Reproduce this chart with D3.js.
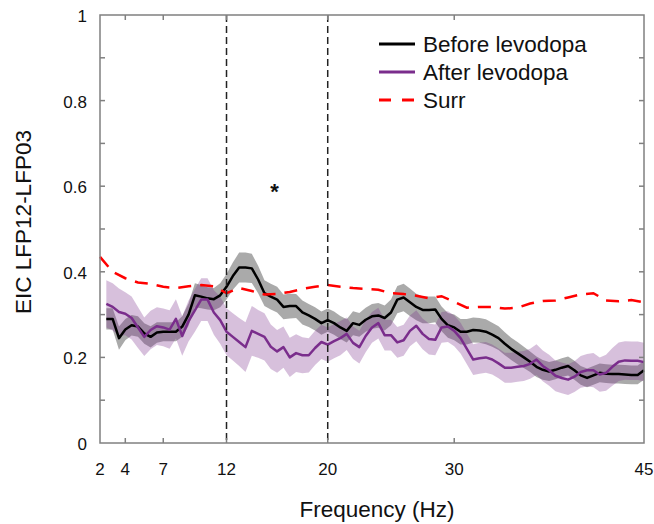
<!DOCTYPE html>
<html>
<head>
<meta charset="utf-8">
<script src="https://cdn.jsdelivr.net/npm/d3@7"></script>
<style>
  body { margin: 0; background: #fff; }
  text { font-family: Arial, "Liberation Sans", sans-serif; fill: #111; }
</style>
</head>
<body>
<svg id="chart" width="654" height="524"></svg>
<script>
// frequencies 2.5..45 Hz in 0.5 Hz steps
const freqs = d3.range(2.5, 45.01, 0.5);

const beforeMean = [
  0.29, 0.29, 0.245, 0.265, 0.275, 0.272,
  0.256, 0.248, 0.258, 0.26, 0.26, 0.26, 0.272,
  0.30, 0.345, 0.342, 0.338, 0.336, 0.345,
  0.365, 0.39, 0.41, 0.41, 0.408, 0.382,
  0.35, 0.342, 0.335, 0.318, 0.32, 0.32, 0.305, 0.298, 0.29, 0.28,
  0.287, 0.28, 0.27, 0.262, 0.28, 0.276, 0.288, 0.296, 0.298, 0.292,
  0.305, 0.335, 0.34, 0.329, 0.318, 0.311, 0.311, 0.312, 0.29, 0.275,
  0.27, 0.26, 0.26, 0.264, 0.263, 0.26, 0.253, 0.245, 0.232, 0.22,
  0.21, 0.2, 0.19, 0.178, 0.171, 0.167, 0.171, 0.176, 0.18, 0.17,
  0.158, 0.152, 0.158, 0.164, 0.162, 0.161, 0.161, 0.16, 0.159, 0.159, 0.17
];
const beforeErr = [
  0.025, 0.025, 0.027, 0.025, 0.024, 0.024,
  0.024, 0.025, 0.024, 0.022, 0.022, 0.022, 0.024,
  0.026, 0.028, 0.027, 0.026, 0.026, 0.028,
  0.03, 0.032, 0.035, 0.035, 0.034, 0.032,
  0.03, 0.03, 0.03, 0.029, 0.029, 0.028, 0.028, 0.027, 0.027, 0.027,
  0.027, 0.027, 0.027, 0.027, 0.028, 0.028, 0.028, 0.029, 0.029, 0.029,
  0.03, 0.032, 0.032, 0.032, 0.031, 0.031, 0.031, 0.03, 0.029, 0.029,
  0.03, 0.03, 0.03, 0.029, 0.029, 0.029, 0.028, 0.028, 0.027, 0.026,
  0.026, 0.025, 0.024, 0.024, 0.023, 0.022, 0.022, 0.022, 0.022, 0.022,
  0.022, 0.022, 0.022, 0.022, 0.022, 0.022, 0.022, 0.022, 0.022, 0.022, 0.022
];

const afterMean = [
  0.325, 0.318, 0.306, 0.302, 0.292, 0.27,
  0.248, 0.264, 0.273, 0.27, 0.265, 0.29, 0.25,
  0.285, 0.31, 0.335, 0.335, 0.305, 0.287,
  0.26, 0.248, 0.236, 0.224, 0.262, 0.255,
  0.248, 0.225, 0.214, 0.224, 0.2, 0.21, 0.205, 0.205, 0.222, 0.236,
  0.23, 0.238, 0.245, 0.255, 0.234, 0.224, 0.25, 0.27, 0.28, 0.252,
  0.252, 0.235, 0.24, 0.262, 0.274, 0.255, 0.243, 0.241, 0.27, 0.272,
  0.262, 0.245, 0.22, 0.195, 0.198, 0.2, 0.195, 0.186, 0.176, 0.176,
  0.178, 0.18, 0.185, 0.195, 0.18, 0.17, 0.157, 0.152, 0.148, 0.155,
  0.166, 0.17, 0.17, 0.16, 0.164, 0.178, 0.19, 0.193, 0.192, 0.192, 0.189
];
const afterErr = [
  0.055, 0.055, 0.055, 0.05, 0.05, 0.048,
  0.045, 0.045, 0.044, 0.044, 0.045, 0.046, 0.046,
  0.048, 0.05, 0.05, 0.05, 0.052, 0.055,
  0.055, 0.055, 0.056, 0.058, 0.058, 0.056,
  0.055, 0.052, 0.05, 0.048, 0.046, 0.044, 0.042, 0.04, 0.04, 0.04,
  0.04, 0.04, 0.04, 0.038, 0.038, 0.038, 0.038, 0.036, 0.036, 0.036,
  0.036, 0.036, 0.036, 0.036, 0.036, 0.036, 0.036, 0.036, 0.036, 0.036,
  0.036, 0.036, 0.036, 0.036, 0.036, 0.036, 0.035, 0.035, 0.035, 0.035,
  0.035, 0.035, 0.035, 0.036, 0.036, 0.036, 0.036, 0.036, 0.036, 0.036,
  0.037, 0.038, 0.04, 0.04, 0.042, 0.044, 0.045, 0.045, 0.045, 0.045, 0.045
];

// surrogate threshold, 1 Hz steps 2..45
const surrFreqs = d3.range(2, 45.01, 1);
const surrValues = [
  0.435, 0.40, 0.385, 0.375, 0.372, 0.365, 0.362, 0.366, 0.369, 0.366,
  0.35, 0.362, 0.355, 0.347, 0.348, 0.353, 0.36, 0.365, 0.369, 0.365,
  0.362, 0.36, 0.358, 0.35, 0.348, 0.344, 0.338, 0.343, 0.33, 0.316,
  0.318, 0.318, 0.314, 0.316, 0.326, 0.332, 0.333, 0.34, 0.347, 0.35,
  0.333, 0.331, 0.334, 0.329
];

const xTicks = [2, 4, 7, 12, 20, 30, 45];
const yTicks = [0, 0.1, 0.2, 0.3, 0.4, 0.5, 0.6, 0.7, 0.8, 0.9, 1];
const bandEdges = [12, 20];
const legendItems = ['Before levodopa', 'After levodopa', 'Surr'];

const svg = d3.select('#chart');
const margin = { left: 100, right: 10, top: 15, bottom: 81 };
const W = 654, H = 524;
const x = d3.scaleLinear().domain([2, 45]).range([margin.left, W - margin.right]);
const y = d3.scaleLinear().domain([0, 1]).range([H - margin.bottom, margin.top]);

const axisColor = '#808080';
const purple = '#7a2d8c';

const toRows = (means, errs) => freqs.map((f, i) => ({ f, m: means[i], e: errs[i] }));
const before = toRows(beforeMean, beforeErr);
const after = toRows(afterMean, afterErr);
const surr = surrFreqs.map((f, i) => ({ f, m: surrValues[i] }));

const area = d3.area().x(d => x(d.f)).y0(d => y(d.m - d.e)).y1(d => y(d.m + d.e));
const line = d3.line().x(d => x(d.f)).y(d => y(d.m));

// shaded error bands
svg.append('path').datum(before)
  .attr('d', area).attr('fill', '#555').attr('fill-opacity', 0.5);
svg.append('path').datum(after)
  .attr('d', area).attr('fill', purple).attr('fill-opacity', 0.3);

svg.append('path').datum(before)
  .attr('d', line).attr('fill', 'none').attr('stroke', '#000').attr('stroke-width', 2.5)
  .attr('stroke-linejoin', 'round');
svg.append('path').datum(after)
  .attr('d', line).attr('fill', 'none').attr('stroke', purple).attr('stroke-width', 2.5)
  .attr('stroke-linejoin', 'round');
svg.append('path').datum(surr)
  .attr('d', line).attr('fill', 'none').attr('stroke', '#ff0000').attr('stroke-width', 2.5)
  .attr('stroke-dasharray', '13,9');

// frequency band markers
svg.selectAll('.band-edge').data(bandEdges).enter().append('line')
  .attr('x1', d => x(d)).attr('x2', d => x(d))
  .attr('y1', y(1)).attr('y2', y(0))
  .attr('stroke', '#222').attr('stroke-width', 1.5).attr('stroke-dasharray', '7,4');

// box axes with inward ticks
const tickLen = 5;
const axes = svg.append('g').attr('stroke', axisColor).attr('stroke-width', 1.5);
axes.append('rect')
  .attr('x', x(2)).attr('y', y(1))
  .attr('width', x(45) - x(2)).attr('height', y(0) - y(1))
  .attr('fill', 'none');
xTicks.slice(1, -1).forEach(t => {
  axes.append('line').attr('x1', x(t)).attr('x2', x(t)).attr('y1', y(0)).attr('y2', y(0) - tickLen);
  axes.append('line').attr('x1', x(t)).attr('x2', x(t)).attr('y1', y(1)).attr('y2', y(1) + tickLen);
});
yTicks.slice(1, -1).forEach(t => {
  axes.append('line').attr('x1', x(2)).attr('x2', x(2) + tickLen).attr('y1', y(t)).attr('y2', y(t));
  axes.append('line').attr('x1', x(45)).attr('x2', x(45) - tickLen).attr('y1', y(t)).attr('y2', y(t));
});

svg.selectAll('.xlab').data(xTicks).enter().append('text')
  .attr('x', d => x(d)).attr('y', y(0) + 32)
  .attr('text-anchor', 'middle').attr('font-size', 17)
  .text(d => d);
svg.selectAll('.ylab').data(yTicks.filter((t, i) => i % 2 === 0)).enter().append('text')
  .attr('x', x(2) - 13).attr('y', d => y(d) + 7)
  .attr('text-anchor', 'end').attr('font-size', 17)
  .text(d => d3.format('~g')(d));

svg.append('text')
  .attr('x', (x(2) + x(45)) / 2 + 5).attr('y', 517)
  .attr('text-anchor', 'middle').attr('font-size', 22.5)
  .text('Frequency (Hz)');
svg.append('text')
  .attr('transform', `translate(31,${(y(0) + y(1)) / 2 - 7}) rotate(-90)`)
  .attr('text-anchor', 'middle').attr('font-size', 22.5)
  .text('EIC LFP12-LFP03');

svg.append('text')
  .attr('x', x(15.8)).attr('y', 199)
  .attr('text-anchor', 'middle').attr('font-size', 22).attr('font-weight', 'bold')
  .text('*');

// legend
const legend = svg.append('g').attr('transform', 'translate(379,44)');
const legendStyles = [
  { stroke: '#000', dash: null },
  { stroke: purple, dash: null },
  { stroke: '#ff0000', dash: '12,11' }
];
legendItems.forEach((name, i) => {
  const g = legend.append('g').attr('transform', `translate(0,${i * 28})`);
  g.append('line').attr('x1', 0).attr('x2', 36).attr('y1', 0).attr('y2', 0)
    .attr('stroke', legendStyles[i].stroke).attr('stroke-width', 3)
    .attr('stroke-dasharray', legendStyles[i].dash);
  g.append('text').attr('x', 44).attr('y', 8).attr('font-size', 22.5).text(name);
});
</script>
</body>
</html>
